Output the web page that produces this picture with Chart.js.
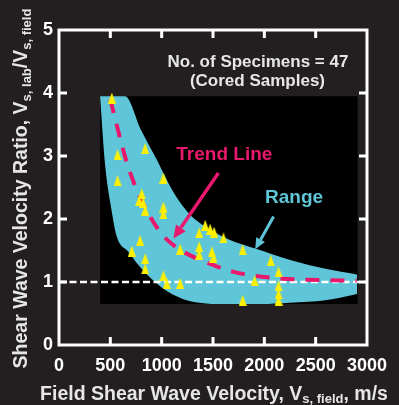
<!DOCTYPE html>
<html>
<head>
<meta charset="utf-8">
<script src="https://cdn.jsdelivr.net/npm/chart.js@4/dist/chart.umd.min.js"></script>
<style>
  html, body { margin: 0; padding: 0; background: #231f20; }
  #wrap { width: 399px; height: 405px; }
</style>
</head>
<body>
<div id="wrap"><canvas id="chart" width="399" height="405"></canvas></div>
<script>
// Cored specimens: field shear wave velocity (m/s) and lab/field velocity ratio
const specimenVs = [514, 570, 839, 570, 1017, 806, 780, 820, 839, 1017, 1017,
  1424, 1365, 1472, 1511, 1602, 790, 709, 839, 839, 1180, 1365, 1365, 1489, 1504,
  1789, 2062, 2138, 1017, 1050, 1180, 1906, 2138, 2138, 1789, 2138];
const specimenRatio = [3.92, 3.02, 3.12, 2.61, 2.65, 2.40, 2.29, 2.26, 2.14, 2.19, 2.08,
  1.90, 1.78, 1.84, 1.79, 1.70, 1.66, 1.49, 1.37, 1.21, 1.52, 1.56, 1.44, 1.48, 1.39,
  1.51, 1.34, 1.16, 1.10, 0.98, 0.98, 1.02, 0.94, 0.81, 0.71, 0.71];

// Trend line through the data
const trendVs = [500, 575, 660, 760, 860, 960, 1060, 1180, 1375, 1500, 1700, 1900, 2130, 2350, 2600, 2900];
const trendRatio = [3.90, 3.41, 2.90, 2.45, 2.12, 1.85, 1.66, 1.51, 1.35, 1.27, 1.16, 1.10, 1.06, 1.04, 1.03, 1.02];

// Envelope of the measured range
const rangeUpperVs = [400, 643, 800, 953, 1050, 1163, 1294, 1424, 1648, 1911, 2269, 2594, 2903];
const rangeUpperRatio = [3.95, 3.95, 3.41, 2.94, 2.62, 2.30, 2.04, 1.88, 1.68, 1.53, 1.34, 1.21, 1.12];
const rangeLowerVs = [400, 449, 516, 563, 676, 773, 936, 1099, 1326, 1648, 1960, 2252, 2594, 2903];
const rangeLowerRatio = [3.95, 2.86, 2.10, 1.72, 1.48, 1.27, 1.00, 0.81, 0.68, 0.65, 0.65, 0.67, 0.71, 0.81];

// Dark backdrop behind the data
const panelVs = [400, 2910];
const panelTop = [3.95, 3.95];
const panelBottom = [0.65, 0.65];

// Ratio of one
const unityVs = [0, 3000];
const unityRatio = [1, 1];

const xTicks = [0, 500, 1000, 1500, 2000, 2500, 3000];
const yTicks = [0, 1, 2, 3, 4, 5];

const CYAN = '#5ec6d8';
const MAGENTA = '#e8196c';
const YELLOW = '#fff000';
const FONT = '"Liberation Sans", Arial, sans-serif';

const pts = (xs, ys) => xs.map((v, i) => ({ x: v, y: ys[i] }));

function triangleMarker(w, h, color) {
  const c = document.createElement('canvas');
  c.width = w; c.height = h;
  const g = c.getContext('2d');
  g.fillStyle = color;
  g.beginPath();
  g.moveTo(w / 2, 0);
  g.lineTo(w, h);
  g.lineTo(0, h);
  g.closePath();
  g.fill();
  return c;
}

// Text runs with subscripts, drawn left to right around a centre point
function drawRuns(ctx, runs, cx, baseY, color) {
  let total = 0;
  runs.forEach(r => { ctx.font = `bold ${r.size}px ${FONT}`; r.w = ctx.measureText(r.t).width; total += r.w; });
  let x = cx - total / 2;
  ctx.fillStyle = color;
  ctx.textAlign = 'left';
  ctx.textBaseline = 'alphabetic';
  runs.forEach(r => {
    ctx.font = `bold ${r.size}px ${FONT}`;
    ctx.fillText(r.t, x, baseY + (r.dy || 0));
    x += r.w;
  });
}

function drawArrow(ctx, x0, y0, x1, y1, color, width, head, headW) {
  const ang = Math.atan2(y1 - y0, x1 - x0);
  const bx = x1 - Math.cos(ang) * head, by = y1 - Math.sin(ang) * head;
  ctx.strokeStyle = color; ctx.fillStyle = color; ctx.lineWidth = width; ctx.lineCap = 'butt';
  ctx.beginPath(); ctx.moveTo(x0, y0); ctx.lineTo(bx, by); ctx.stroke();
  ctx.beginPath();
  ctx.moveTo(x1, y1);
  ctx.lineTo(bx + Math.sin(ang) * headW / 2, by - Math.cos(ang) * headW / 2);
  ctx.lineTo(bx - Math.sin(ang) * headW / 2, by + Math.cos(ang) * headW / 2);
  ctx.closePath(); ctx.fill();
}

const notes = [
  { text: 'No. of Specimens = 47', x: 1938, y: 4.42, size: 17, color: '#e6e6e6', dy: 0 },
  { text: '(Cored Samples)', x: 1933, y: 4.42, size: 17, color: '#e6e6e6', dy: 19.3 },
  { text: 'Trend Line', x: 1610, y: 2.94, size: 19, color: MAGENTA, dy: 0 },
  { text: 'Range', x: 2290, y: 2.25, size: 19, color: CYAN, dy: 0 }
];
const arrows = [
  { from: [1553, 2.73], to: [1115, 1.69], color: MAGENTA, width: 3.5, head: 13, headW: 12 },
  { from: [2090, 2.04], to: [1911, 1.52], color: CYAN, width: 3, head: 11, headW: 10 }
];

const decorations = {
  id: 'decorations',
  afterDraw(chart) {
    const { ctx, chartArea: a, scales: { x, y } } = chart;
    ctx.save();
    // frame
    ctx.strokeStyle = '#ffffff';
    ctx.lineWidth = 3;
    ctx.strokeRect(a.left, a.top, a.right - a.left, a.bottom - a.top);
    // inward tick marks on all four sides
    ctx.beginPath();
    xTicks.forEach(v => {
      if (v <= x.min || v >= x.max) return;
      const px = x.getPixelForValue(v);
      ctx.moveTo(px, a.bottom); ctx.lineTo(px, a.bottom - 8);
      ctx.moveTo(px, a.top); ctx.lineTo(px, a.top + 8);
    });
    yTicks.forEach(v => {
      if (v <= y.min || v >= y.max) return;
      const py = y.getPixelForValue(v);
      ctx.moveTo(a.left, py); ctx.lineTo(a.left + 8, py);
      ctx.moveTo(a.right, py); ctx.lineTo(a.right - 8, py);
    });
    ctx.stroke();

    // annotations
    notes.forEach(n => {
      ctx.font = `bold ${n.size}px ${FONT}`;
      ctx.fillStyle = n.color;
      ctx.textAlign = 'center';
      ctx.textBaseline = 'alphabetic';
      ctx.fillText(n.text, x.getPixelForValue(n.x), y.getPixelForValue(n.y) + n.dy);
    });
    arrows.forEach(r => drawArrow(ctx,
      x.getPixelForValue(r.from[0]), y.getPixelForValue(r.from[1]),
      x.getPixelForValue(r.to[0]), y.getPixelForValue(r.to[1]),
      r.color, r.width, r.head, r.headW));

    // axis titles
    drawRuns(ctx, [
      { t: 'Field Shear Wave Velocity, V', size: 19.5 },
      { t: 's, field', size: 13, dy: 3.5 },
      { t: ', m/s', size: 19.5 }
    ], (a.left + a.right) / 2 + 1, 399.5, '#e6e6e6');

    ctx.save();
    ctx.translate(27, (a.top + a.bottom) / 2 + 1);
    ctx.rotate(-Math.PI / 2);
    drawRuns(ctx, [
      { t: 'Shear Wave Velocity Ratio, V', size: 19.5 },
      { t: 's, lab', size: 13, dy: 3.5 },
      { t: '/V', size: 19.5 },
      { t: 's, field', size: 13, dy: 3.5 }
    ], 0, 0, '#e6e6e6');
    ctx.restore();
    ctx.restore();
  }
};

const hiddenLine = { showLine: true, borderWidth: 0, pointRadius: 0, borderColor: 'rgba(0,0,0,0)' };
const plainLabel = v => String(v);

new Chart(document.getElementById('chart'), {
  type: 'scatter',
  data: {
    datasets: [
      {
        label: 'Specimens', order: 0,
        data: pts(specimenVs, specimenRatio),
        pointStyle: triangleMarker(8, 11, YELLOW), pointRadius: 5,
        backgroundColor: YELLOW, borderColor: YELLOW
      },
      {
        label: 'Trend Line', order: 1, showLine: true,
        data: pts(trendVs, trendRatio),
        borderColor: MAGENTA, borderWidth: 4, borderDash: [14, 11], borderCapStyle: 'butt',
        pointRadius: 0, cubicInterpolationMode: 'monotone'
      },
      {
        label: 'Unity', order: 2, showLine: true,
        data: pts(unityVs, unityRatio),
        borderColor: '#ffffff', borderWidth: 2.5, borderDash: [7, 3.5], pointRadius: 0
      },
      Object.assign({
        label: 'Range', order: 3,
        data: pts(rangeUpperVs, rangeUpperRatio),
        fill: { target: 4 }, backgroundColor: CYAN, cubicInterpolationMode: 'monotone'
      }, hiddenLine),
      Object.assign({
        label: 'Range lower', order: 4,
        data: pts(rangeLowerVs, rangeLowerRatio),
        fill: false, cubicInterpolationMode: 'monotone'
      }, hiddenLine),
      Object.assign({
        label: 'Panel', order: 5,
        data: pts(panelVs, panelTop),
        fill: { target: 6 }, backgroundColor: '#000000'
      }, hiddenLine),
      Object.assign({
        label: 'Panel lower', order: 6,
        data: pts(panelVs, panelBottom), fill: false
      }, hiddenLine)
    ]
  },
  options: {
    responsive: false,
    animation: false,
    devicePixelRatio: 1,
    events: [],
    layout: { padding: { left: 0, right: 32, top: 30, bottom: 0 } },
    plugins: { legend: { display: false }, tooltip: { enabled: false } },
    scales: {
      x: {
        type: 'linear', min: 0, max: 3000,
        afterBuildTicks: s => { s.ticks = xTicks.map(v => ({ value: v })); },
        afterFit: s => { s.height = 60; },
        grid: { display: false, drawTicks: false },
        border: { display: false },
        ticks: { color: '#ffffff', padding: 10, maxRotation: 0, autoSkip: false, callback: plainLabel,
                 font: { family: FONT, size: 18, weight: 'bold' } }
      },
      y: {
        type: 'linear', min: 0, max: 5,
        afterBuildTicks: s => { s.ticks = yTicks.map(v => ({ value: v })); },
        afterFit: s => { s.width = 59; },
        grid: { display: false, drawTicks: false },
        border: { display: false },
        ticks: { color: '#ffffff', padding: 6, autoSkip: false, callback: plainLabel,
                 font: { family: FONT, size: 18, weight: 'bold' } }
      }
    }
  },
  plugins: [decorations]
});
</script>
</body>
</html>
